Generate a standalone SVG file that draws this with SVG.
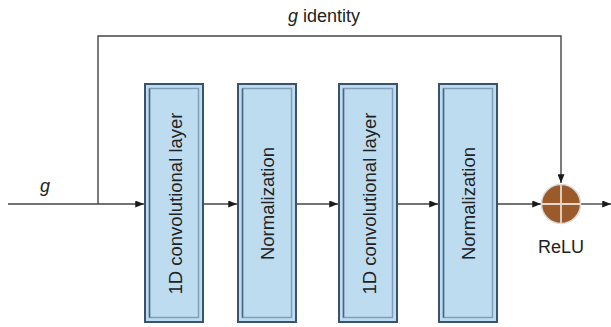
<svg xmlns="http://www.w3.org/2000/svg" width="611" height="327" viewBox="0 0 611 327">
<defs>
<marker id="ah" viewBox="0 0 10 8" refX="10" refY="4" markerWidth="9" markerHeight="7" markerUnits="userSpaceOnUse" orient="auto">
<path d="M0,0 L10,4 L0,8 z" fill="#1a1a1a"/>
</marker>
<style>
.outer{fill:#bedcf0;stroke:#3a526d;stroke-width:2}
.inner{fill:none;stroke:#7f9fb9;stroke-width:1.5}
.shade{stroke:#4a6580;stroke-width:1.5}
.lbl{font-family:"Liberation Sans",Arial,sans-serif;font-size:18.5px;fill:#222;text-anchor:middle}
.txt{font-family:"Liberation Sans",Arial,sans-serif;font-size:18px;fill:#222}
.ln{fill:none;stroke:#444;stroke-width:1.4}
</style>
</defs>
<rect width="611" height="327" fill="#fff"/>
<g id="connectors">
<path class="ln" d="M8,204 H144" marker-end="url(#ah)"/>
<path class="ln" d="M98,204 V36 H561 V183" marker-end="url(#ah)"/>
<path class="ln" d="M204,204 H237" marker-end="url(#ah)"/>
<path class="ln" d="M297,204 H338" marker-end="url(#ah)"/>
<path class="ln" d="M398,204 H438" marker-end="url(#ah)"/>
<path class="ln" d="M498,204 H541" marker-end="url(#ah)"/>
<path class="ln" d="M581,204 H611" marker-end="url(#ah)"/>
</g>
<g id="label-g-identity"><text class="txt" x="324" y="22" text-anchor="middle"><tspan font-style="italic">g</tspan> identity</text></g>
<g id="label-g"><text class="txt" x="45" y="192" text-anchor="middle" font-style="italic">g</text></g>
<g id="conv1">
<rect class="outer" x="145" y="84" width="58" height="238"/>
<rect class="inner" x="149.5" y="88.5" width="49" height="229"/>
<line class="shade" x1="149.5" y1="88.5" x2="149.5" y2="317.5"/>
<text class="lbl" transform="translate(182,203.5) rotate(-90)">1D convolutional layer</text>
</g>
<g id="norm1">
<rect class="outer" x="238" y="84" width="58" height="238"/>
<rect class="inner" x="242.5" y="88.5" width="49" height="229"/>
<line class="shade" x1="242.5" y1="88.5" x2="242.5" y2="317.5"/>
<text class="lbl" transform="translate(274,203.5) rotate(-90)">Normalization</text>
</g>
<g id="conv2">
<rect class="outer" x="339" y="84" width="58" height="238"/>
<rect class="inner" x="343.5" y="88.5" width="49" height="229"/>
<line class="shade" x1="343.5" y1="88.5" x2="343.5" y2="317.5"/>
<text class="lbl" transform="translate(376,203.5) rotate(-90)">1D convolutional layer</text>
</g>
<g id="norm2">
<rect class="outer" x="439" y="84" width="58" height="238"/>
<rect class="inner" x="443.5" y="88.5" width="49" height="229"/>
<line class="shade" x1="443.5" y1="88.5" x2="443.5" y2="317.5"/>
<text class="lbl" transform="translate(475,203.5) rotate(-90)">Normalization</text>
</g>
<g id="relu">
<circle cx="561" cy="204" r="19.5" fill="#9b5a2a" stroke="#d8d8d8" stroke-width="1.5"/>
<path d="M541.5,204 H580.5 M561,184.5 V223.5" stroke="#e6d9cc" stroke-width="1.8"/>
<text class="txt" x="561" y="253" text-anchor="middle">ReLU</text>
</g>
</svg>
